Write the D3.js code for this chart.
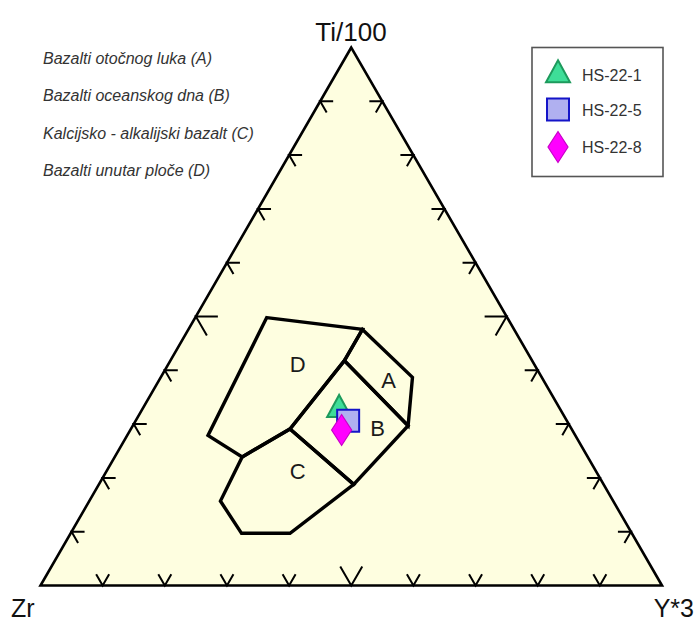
<!DOCTYPE html>
<html>
<head>
<meta charset="utf-8">
<script src="https://cdn.jsdelivr.net/npm/d3@7"></script>
<style>
  html, body { margin: 0; padding: 0; background: #ffffff; }
  svg { display: block; }
</style>
</head>
<body>
<svg id="chart" width="697" height="624"></svg>
<script>
// ---------------- DATA (ternary fractions: Ti/100, Y*3; Zr = 1 - Ti - Y) ----------------
const apexLabels = ["Ti/100", "Zr", "Y*3"];
const tickValues = [0.1, 0.2, 0.3, 0.4, 0.5, 0.6, 0.7, 0.8, 0.9];
const majorTick = 0.5;

const fieldNames = ["A", "B", "C", "D"];
const fieldA = [[0.476, 0.280], [0.387, 0.405], [0.297, 0.443], [0.418, 0.280]];
const fieldB = [[0.418, 0.280], [0.297, 0.443], [0.188, 0.410], [0.291, 0.256]];
const fieldC = [[0.291, 0.256], [0.188, 0.410], [0.097, 0.353], [0.097, 0.275], [0.157, 0.211], [0.239, 0.205]];
const fieldD = [[0.498, 0.115], [0.476, 0.280], [0.418, 0.280], [0.291, 0.256], [0.239, 0.205], [0.279, 0.130]];
const fieldLabelTi = [0.382, 0.293, 0.213, 0.4115];
const fieldLabelY  = [0.369, 0.396, 0.3075, 0.208];

const fieldDescriptions = [
  "Bazalti otočnog luka (A)",
  "Bazalti oceanskog dna (B)",
  "Kalcijsko - alkalijski bazalt (C)",
  "Bazalti unutar ploče (D)"
];

const sampleNames = ["HS-22-1", "HS-22-5", "HS-22-8"];
const sampleTi = [0.327, 0.306, 0.289];
const sampleY  = [0.317, 0.342, 0.340];
const sampleZr = sampleTi.map((t, i) => +(1 - t - sampleY[i]).toFixed(3));
const sampleShapes = ["triangle", "square", "diamond"];
const sampleFill   = ["#3ede98", "#b0b0f0", "#ff00ff"];
const sampleStroke = ["#1d9a5c", "#1414c8", "#c800c8"];

// ---------------- SCALES ----------------
const svg = d3.select("#chart");
const xS = d3.scaleLinear().domain([0, 1]).range([40.5, 662]);   // along base (Zr -> Y)
const yS = d3.scaleLinear().domain([0, 1]).range([585.5, 47.5]); // Ti fraction -> height
function proj(ti, y) { return [xS(y + ti / 2), yS(ti)]; }

const font = "'Liberation Sans', Arial, Helvetica, sans-serif";

// ---------------- TRIANGLE ----------------
const corners = [proj(1, 0), proj(0, 0), proj(0, 1)];
svg.append("path")
  .attr("d", d3.line()(corners) + "Z")
  .attr("fill", "#fefee0")
  .attr("stroke", "#000")
  .attr("stroke-width", 2.6)
  .attr("stroke-linejoin", "miter");

// ---------------- TICKS ----------------
const s3 = Math.sqrt(3) / 2;
const tickG = svg.append("g").attr("stroke", "#000").attr("stroke-width", 2).attr("fill", "none");
function chevron(p, d1, d2, L) {
  return d3.line()([[p[0] + d1[0] * L, p[1] + d1[1] * L], p, [p[0] + d2[0] * L, p[1] + d2[1] * L]]);
}
tickValues.forEach(t => {
  const L = t === majorTick ? 22 : 13;
  tickG.append("path").attr("d", chevron(proj(0, t), [-0.5, -s3], [0.5, -s3], L));
  tickG.append("path").attr("d", chevron(proj(t, 0), [1, 0], [0.5, s3], L));
  tickG.append("path").attr("d", chevron(proj(t, 1 - t), [-1, 0], [-0.5, s3], L));
});

// ---------------- FIELDS ----------------
const fields = [fieldA, fieldB, fieldC, fieldD];
const fieldG = svg.append("g");
fields.forEach(f => {
  fieldG.append("path")
    .attr("d", d3.line()(f.map(v => proj(v[0], v[1]))) + "Z")
    .attr("fill", "none")
    .attr("stroke", "#000")
    .attr("stroke-width", 3.4)
    .attr("stroke-linejoin", "miter");
});
fieldNames.forEach((n, i) => {
  const p = proj(fieldLabelTi[i], fieldLabelY[i]);
  fieldG.append("text")
    .attr("x", p[0]).attr("y", p[1] + 8)
    .attr("text-anchor", "middle")
    .attr("font-family", font)
    .attr("font-size", 22)
    .attr("fill", "#1a1a1a")
    .text(n);
});

// ---------------- MARKERS ----------------
function markerPath(shape) {
  if (shape === "triangle") { const w = 24, h = 22; return `M0,${-2*h/3}L${w/2},${h/3}L${-w/2},${h/3}Z`; }
  if (shape === "square")   { const s = 22; return `M${-s/2},${-s/2}H${s/2}V${s/2}H${-s/2}Z`; }
  const w = 20, h = 31; return `M0,${-h/2}L${w/2},0L0,${h/2}L${-w/2},0Z`;
}
const sampleG = svg.append("g");
sampleNames.forEach((n, i) => {
  const p = proj(sampleTi[i], sampleY[i]);
  sampleG.append("path")
    .attr("transform", `translate(${p[0]},${p[1]})`)
    .attr("d", markerPath(sampleShapes[i]))
    .attr("fill", sampleFill[i])
    .attr("stroke", sampleStroke[i])
    .attr("stroke-width", i === 2 ? 1.2 : 2);
});

// ---------------- APEX LABELS ----------------
svg.append("text").attr("x", 351).attr("y", 41).attr("text-anchor", "middle")
  .attr("font-family", font).attr("font-size", 26).attr("fill", "#111").text(apexLabels[0]);
svg.append("text").attr("x", 11).attr("y", 617).attr("text-anchor", "start")
  .attr("font-family", font).attr("font-size", 25).attr("fill", "#111").text(apexLabels[1]);
svg.append("text").attr("x", 694).attr("y", 617).attr("text-anchor", "end")
  .attr("font-family", font).attr("font-size", 25).attr("fill", "#111").text(apexLabels[2]);

// ---------------- FIELD DESCRIPTIONS ----------------
const descBase = [64, 101, 139, 176];
fieldDescriptions.forEach((d, i) => {
  svg.append("text").attr("x", 43).attr("y", descBase[i])
    .attr("font-family", font).attr("font-style", "italic").attr("font-size", 16)
    .attr("fill", "#333").text(d);
});

// ---------------- LEGEND ----------------
const lg = svg.append("g");
lg.append("rect").attr("x", 532).attr("y", 47.5).attr("width", 131).attr("height", 129)
  .attr("fill", "#fff").attr("stroke", "#555").attr("stroke-width", 1.6);
const legendY = [75, 109.5, 147];
sampleNames.forEach((n, i) => {
  lg.append("path")
    .attr("transform", `translate(558,${legendY[i]})`)
    .attr("d", markerPath(sampleShapes[i]))
    .attr("fill", sampleFill[i])
    .attr("stroke", sampleStroke[i])
    .attr("stroke-width", i === 2 ? 1.2 : 2);
  lg.append("text").attr("x", 582).attr("y", legendY[i] + 6)
    .attr("font-family", font).attr("font-size", 16).attr("fill", "#333").text(n);
});
</script>
</body>
</html>
